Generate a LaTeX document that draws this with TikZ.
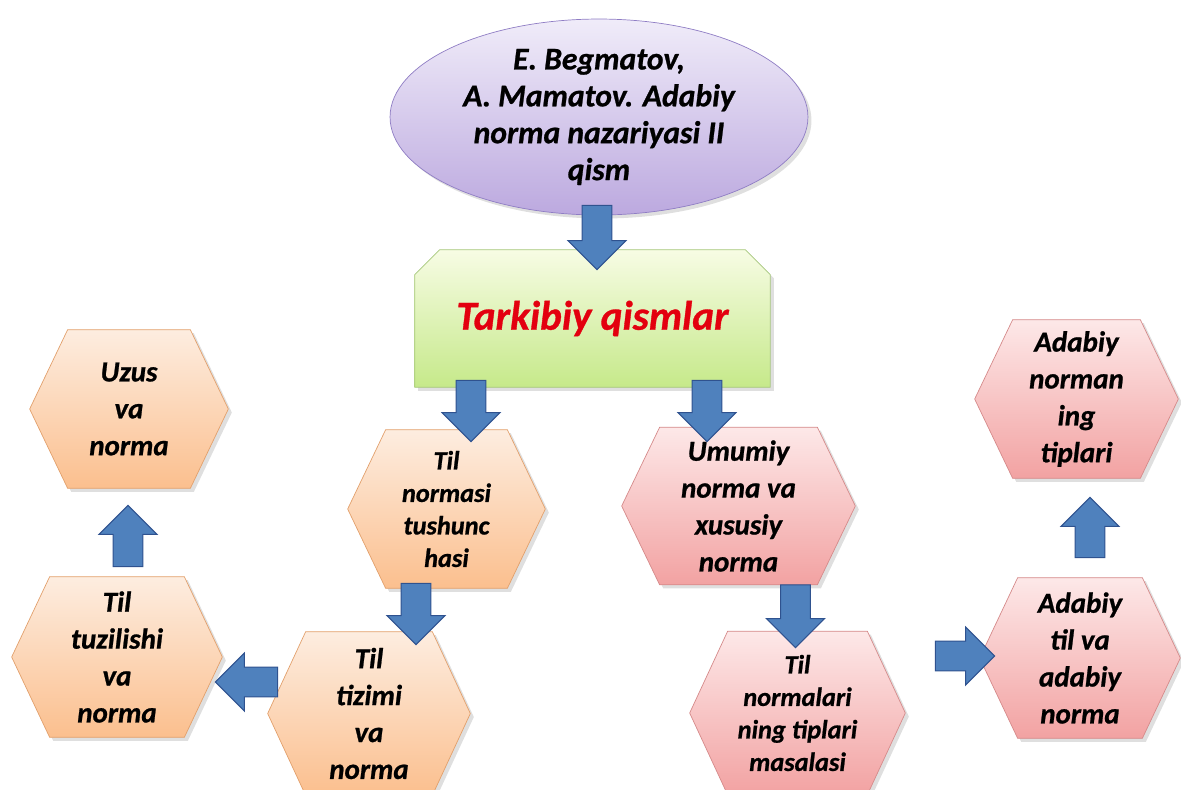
\documentclass[tikz,border=0pt]{standalone}
\usepackage{fontspec}
\setmainfont{Carlito}[BoldItalicFeatures={FakeBold=0.8}]
\usepackage{tikz}
\usetikzlibrary{shapes.geometric, calc, backgrounds, shadows}
\definecolor{lavtop}{HTML}{F0ECF9}
\definecolor{lavbot}{HTML}{BCA9DF}
\definecolor{lavedge}{HTML}{8F7DC4}
\definecolor{greentop}{HTML}{F7FCE4}
\definecolor{greenbot}{HTML}{C6E98A}
\definecolor{greenedge}{HTML}{A6C77C}
\definecolor{peachtop}{HTML}{FDEDE0}
\definecolor{peachbot}{HTML}{FBBF8E}
\definecolor{peachedge}{HTML}{E2A06C}
\definecolor{rosetop}{HTML}{FDE8E8}
\definecolor{rosebot}{HTML}{F2A2A2}
\definecolor{roseedge}{HTML}{D58A8A}
\definecolor{arrowfill}{HTML}{4F81BD}
\definecolor{arrowedge}{HTML}{2F528F}
\definecolor{titlered}{HTML}{E3000F}
\newcommand{\hexin}{0.76cm}
% hexagon drawn round the box of a named node
\newcommand{\hexshape}[2]{%
  \path[draw=#2edge, top color=#2top, bottom color=#2bot, softshadow]
    (#1.west) -- ($(#1.north west)+(\hexin,0)$) -- ($(#1.north east)+(-\hexin,0)$)
    -- (#1.east) -- ($(#1.south east)+(-\hexin,0)$) -- ($(#1.south west)+(\hexin,0)$) -- cycle;}

\begin{document}
\begin{tikzpicture}[
    x=0.02cm, y=-0.02cm,
    softshadow/.style={drop shadow={opacity=0.25, shadow xshift=2pt, shadow yshift=-2pt}},
    hexcell/.style={rectangle, inner sep=0pt, align=center,
                    font=\bfseries\itshape\fontsize{16.5}{21}\selectfont},
    smalltext/.style={font=\bfseries\itshape\fontsize{15}{18.5}\selectfont},
    blockarrow/.style={draw=arrowedge, fill=arrowfill, line width=0.6pt, line join=miter,
      to path={let \p1=(\tikztostart), \p2=(\tikztotarget),
        \n1={veclen(\x2-\x1,\y2-\y1)}, \n2={atan2(\y2-\y1,\x2-\x1)},
        \n3={\n1-16.5pt} in
        [shift={(\p1)}, rotate=\n2]
        (0pt,-8.5pt) -- (\n3,-8.5pt) -- (\n3,-16.5pt) -- (\n1,0pt)
        -- (\n3,16.5pt) -- (\n3,8.5pt) -- (0pt,8.5pt) -- cycle}},
]
\useasboundingbox (0,0) rectangle (1181,789);
\clip (0,0) rectangle (1181,789);

% Title ellipse and main box
\node[ellipse, draw=lavedge, top color=lavtop, bottom color=lavbot, softshadow,
      minimum width=8.36cm, minimum height=3.92cm, inner sep=0pt, align=center,
      font=\bfseries\itshape\fontsize{18}{21}\selectfont] (ell) at (599,117)
      {E. Begmatov,\\A. Mamatov. Adabiy\\norma nazariyasi II\\qism};
\node[rectangle, minimum width=7.1cm, minimum height=2.74cm, inner sep=0pt,
      text=titlered, font=\bfseries\itshape\fontsize{23.5}{28}\selectfont] (tq) at (592.5,318.5)
      {Tarkibiy qismlar};

% Hexagon cells
\node[hexcell, minimum width=3.96cm, minimum height=3.16cm] (uzus) at (129,409) {Uzus\\va\\norma};
\node[hexcell, smalltext, minimum width=3.94cm, minimum height=3.16cm] (tnorm) at (446.5,509) {Til\\normasi\\tushunc\\hasi};
\node[hexcell, minimum width=4.66cm, minimum height=3.14cm] (umum) at (738.5,506) {Umumiy\\norma va\\xususiy\\norma};
\node[hexcell, minimum width=4.06cm, minimum height=3.16cm] (adnorm) at (1076.5,399) {Adabiy\\norman\\ing\\tiplari};
\node[hexcell, minimum width=4.2cm, minimum height=3.2cm] (tuzil) at (117,657) {Til\\tuzilishi\\va\\norma};
\node[hexcell, minimum width=4.04cm, minimum height=3.26cm] (tizim) at (369,713.5) {Til\\tizimi\\va\\norma};
\node[hexcell, smalltext, minimum width=4.3cm, minimum height=3.26cm] (tnormal) at (797.5,713) {Til\\normalari\\ning tiplari\\masalasi};
\node[hexcell, minimum width=4.0cm, minimum height=3.2cm] (adtil) at (1080,658) {Adabiy\\til va\\adabiy\\norma};

\begin{scope}[on background layer]
  \path[draw=greenedge, top color=greentop, bottom color=greenbot, softshadow]
    ($(tq.north west)+(0,-0.5cm)$) -- ($(tq.north west)+(0.5cm,0)$)
    -- ($(tq.north east)+(-0.5cm,0)$) -- ($(tq.north east)+(0,-0.5cm)$)
    -- (tq.south east) -- (tq.south west) -- cycle;
  \foreach \n in {uzus, tnorm, tuzil, tizim} {\hexshape{\n}{peach}}
  \foreach \n in {umum, adnorm, tnormal, adtil} {\hexshape{\n}{rose}}
\end{scope}

% Block arrows
\coordinate (a1) at ($(ell.south)+(-0.04cm,0.2cm)$);
\coordinate (a2) at ($(tq.south)+(-2.43cm,0.14cm)$);
\coordinate (a3) at ($(tq.south)+(2.29cm,0.14cm)$);
\coordinate (a4) at ($(tnorm.south)+(-0.61cm,0.1cm)$);
\coordinate (a5) at ($(tizim.west)+(0.2cm,0.63cm)$);
\coordinate (a6) at ($(tuzil.north)+(0.22cm,0.2cm)$);
\coordinate (a7) at ($(umum.south)+(1.14cm,0cm)$);
\coordinate (a8) at ($(tnormal.east)+(0.6cm,1.14cm)$);
\coordinate (a9) at ($(adtil.north)+(0.2cm,0.4cm)$);
\draw[blockarrow] (a1) to ($(a1 |- tq.north)+(0,-0.4cm)$);
\draw[blockarrow] (a2) to ($(a2 |- tnorm.north)+(0,-0.24cm)$);
\draw[blockarrow] (a3) to ($(a3 |- umum.north)+(0,-0.29cm)$);
\draw[blockarrow] (a4) to ($(a4 |- tizim.north)+(0,-0.26cm)$);
\draw[blockarrow] (a5) to ($(a5 -| tuzil.east)+(-0.14cm,0)$);
\draw[blockarrow] (a6) to ($(a6 |- uzus.south)+(0,-0.34cm)$);
\draw[blockarrow] (a7) to ($(a7 |- tnormal.north)+(0,-0.33cm)$);
\draw[blockarrow] (a8) to ($(a8 -| adtil.west)+(0.3cm,0)$);
\draw[blockarrow] (a9) to ($(a9 |- adnorm.south)+(0,-0.38cm)$);
\end{tikzpicture}
\end{document}
